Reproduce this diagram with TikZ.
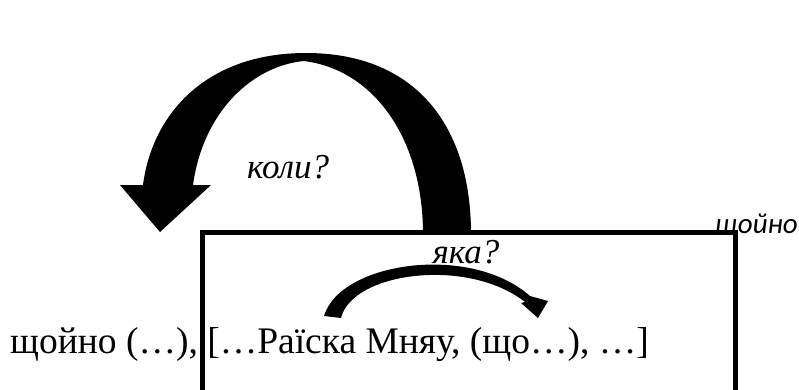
\documentclass[tikz,border=0pt]{standalone}
\usepackage{fontspec}
\setmainfont{Liberation Serif}
\newfontfamily\labelsans{Carlito}
\begin{document}
\begin{tikzpicture}[x=1pt,y=-1pt,
  maintext/.style={inner sep=0pt,font=\fontsize{37.5}{44}\selectfont},
  question/.style={inner sep=0pt,font=\fontsize{35}{42}\selectfont\itshape},
  sidelabel/.style={inner sep=0pt,font=\labelsans\fontsize{29}{34}\selectfont\itshape},
  blackshape/.style={fill=black,draw=none}]
\clip (0,0) rectangle (799,389);
\fill[white] (0,0) rectangle (799,389);
% box
\draw[line width=5pt] (202,232) rectangle (735,420);
% big curved arrow
\path[blackshape] (471,234) .. controls (471,125) and (415,53) .. (306,53)
  .. controls (205,53) and (152,115) .. (143,185)
  -- (120,185) -- (160,232) -- (211,185) -- (193,185)
  .. controls (203,112) and (252,66) .. (304,61)
  .. controls (375,70) and (423,140) .. (423,234) -- cycle;
% small curved arrow
\path[blackshape] (324,316) .. controls (340,262) and (470,243) .. (530,296)
  -- (548,301) -- (538,318) -- (521,303) -- (525,302)
  .. controls (468,257) and (352,272) .. (341,318) -- cycle;
% texts
\node[maintext,anchor=base west] (txt) at (10,353) {щойно (…), […Раїска Мняу, (що…), …]};
\node[question,anchor=base] (koly) at (288,178) {коли?};
\node[question,anchor=base] (yaka) at (466,263) {яка?};
\node[sidelabel,anchor=base east] (shchoino) at (798,233) {щойно};
\end{tikzpicture}
\end{document}
